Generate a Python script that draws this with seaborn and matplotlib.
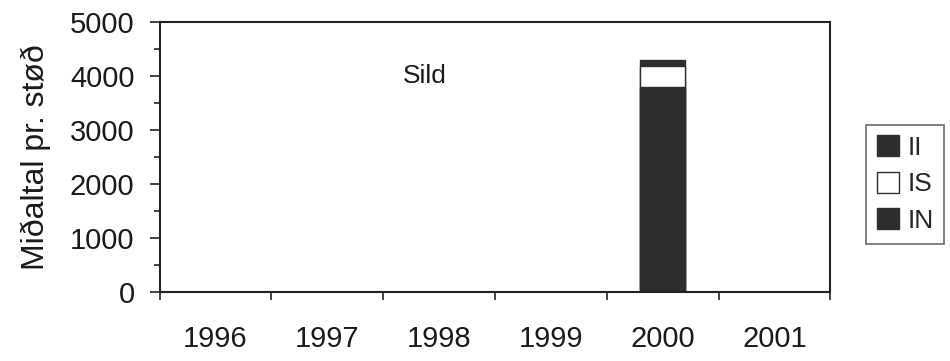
import numpy as np
import pandas as pd
import matplotlib
matplotlib.use("Agg")
import matplotlib.pyplot as plt
from matplotlib.patches import Patch
import seaborn as sns

years = ["1996", "1997", "1998", "1999", "2000", "2001"]
IN = [0, 0, 0, 0, 3800, 0]
IS = [0, 0, 0, 0, 390, 0]
II = [0, 0, 0, 0, 110, 0]

dark = "#2e2e2e"

sns.set_theme(style="white")
plt.rcParams['font.family'] = ['Liberation Sans', 'DejaVu Sans']

df = pd.DataFrame({"year": years, "IN": IN, "IS": IS, "II": II})
df["top_IS"] = df["IN"] + df["IS"]
df["top_II"] = df["top_IS"] + df["II"]

fig = plt.figure(figsize=(9.5, 3.61), dpi=100)
ax = fig.add_axes([0.168, 0.191, 0.706, 0.748])

# stacked bars drawn from the top down
sns.barplot(data=df, x="year", y="top_II", color=dark, width=0.4,
            edgecolor=dark, linewidth=1, saturation=1, ax=ax)
sns.barplot(data=df, x="year", y="top_IS", color="white", width=0.4,
            edgecolor=dark, linewidth=1, saturation=1, ax=ax)
sns.barplot(data=df, x="year", y="IN", color=dark, width=0.4,
            edgecolor=dark, linewidth=1, saturation=1, ax=ax)

ax.set_xlim(-0.5, 5.5)
ax.set_ylim(0, 5000)
ax.set_yticks(np.arange(0, 5001, 1000))
ax.set_yticks(np.arange(0, 5001, 500), minor=True)
ax.set_xticks(np.arange(-0.5, 6, 1), minor=True)
ax.tick_params(axis="x", which="major", length=0, pad=24, labelsize=21, labelcolor="#1a1a1a")
ax.tick_params(axis="x", which="minor", length=6, width=1.2, direction="out", bottom=True)
ax.tick_params(axis="y", which="major", length=7, width=1.2, direction="out", left=True,
               labelsize=21, pad=11, labelcolor="#1a1a1a")
ax.tick_params(axis="y", which="minor", length=4, width=1.2, direction="out", left=True)
ax.set_xlabel("")
ax.set_ylabel("Miðaltal pr. støð", fontsize=23, labelpad=14, color="#1a1a1a")

for s in ax.spines.values():
    s.set_color("#222222")
    s.set_linewidth(1.5)

ax.text(1.87, 4000, "Sild", fontsize=19, ha="center", va="center", color="#1a1a1a")

handles = [Patch(facecolor=dark, edgecolor=dark, label="II"),
           Patch(facecolor="white", edgecolor=dark, label="IS"),
           Patch(facecolor=dark, edgecolor=dark, label="IN")]
leg = fig.legend(handles=handles, loc="center left", bbox_to_anchor=(0.898, 0.49),
                 fontsize=19, frameon=True, handlelength=0.85, handleheight=0.85,
                 handletextpad=0.3, labelspacing=0.45, borderpad=0.4,
                 fancybox=False)
leg.get_frame().set_edgecolor("#444444")
leg.get_frame().set_linewidth(1.2)

fig.savefig("out.png", dpi=100)
